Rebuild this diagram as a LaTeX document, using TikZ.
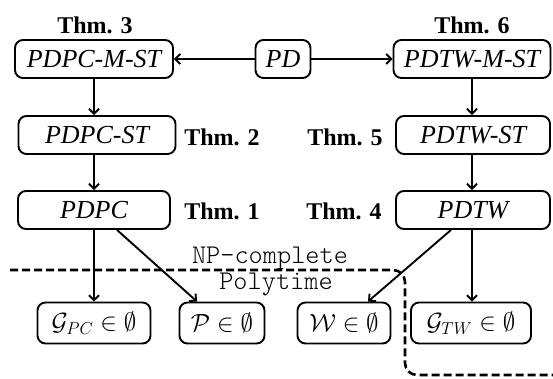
\documentclass[tikz,border=0pt]{standalone}
\usepackage{fontspec}
\setmainfont{Liberation Serif}
\setmonofont{lmmonolt10-regular.otf}
\usetikzlibrary{arrows.meta}
\begin{document}
\begin{tikzpicture}[x=1pt,y=-1pt,
  prob/.style={draw,rounded corners=8pt,line width=1.9pt,minimum height=38pt,
    inner sep=4pt,font=\fontsize{26}{30}\selectfont\itshape},
  leaf/.style={draw,rounded corners=8pt,line width=1.9pt,minimum height=41pt,
    inner sep=4pt,font=\fontsize{26}{30}\selectfont},
  thm/.style={font=\fontsize{24}{28}\selectfont\bfseries},
  region/.style={font=\fontsize{27}{30}\selectfont\ttfamily},
  arr/.style={line width=1.9pt,-{Straight Barb[length=5pt,width=10pt,line width=1.9pt]}},
  border/.style={line width=2.6pt,dash pattern=on 8pt off 4pt,rounded corners=12pt}]
\useasboundingbox (0,0) rectangle (553,379);

% reduction chain for the PC variant
\node[prob,minimum width=158pt] (pcm) at (94,59) {PDPC-M-ST};
\node[prob,minimum width=157pt] (pcs) at (97,135) {PDPC-ST};
\node[prob,minimum width=152pt] (pc)  at (94,210) {PDPC};

% common source
\node[prob,minimum width=55pt] (pd) at (283,59) {PD};

% reduction chain for the TW variant
\node[prob,minimum width=157pt] (twm) at (472,59) {PDTW-M-ST};
\node[prob,minimum width=154pt] (tws) at (473,135) {PDTW-ST};
\node[prob,minimum width=154pt] (tw)  at (473,210) {PDTW};

% theorem labels
\node[thm] (t3) at (95,25) {Thm. 3};
\node[thm] (t6) at (472,25) {Thm. 6};
\node[thm] (t2) at (222,137) {Thm. 2};
\node[thm] (t5) at (345,137) {Thm. 5};
\node[thm] (t1) at (222,211) {Thm. 1};
\node[thm] (t4) at (344,211) {Thm. 4};

% polynomial special cases
\node[leaf,minimum width=113pt] (gpc) at (94,323) {$\mathcal{G}_{PC}\in\emptyset$};
\node[leaf,minimum width=85pt]  (pp)  at (222,323) {$\mathcal{P}\in\emptyset$};
\node[leaf,minimum width=93pt]  (ww)  at (344,323) {$\mathcal{W}\in\emptyset$};
\node[leaf,minimum width=120pt] (gtw) at (471,323) {$\mathcal{G}_{TW}\in\emptyset$};

% complexity boundary
\coordinate (b0) at (10,270);
\coordinate (b1) at (405,270);
\coordinate (b2) at (405,375);
\coordinate (b3) at (553,375);
\draw[border] (b0) -- (b1) -- (b2) -- (b3);
\node[region] (np) at (270,258) {NP-complete};
\node[region] (pt) at (276,284) {Polytime};

% reductions
\draw[arr] (pd) -- (pcm);
\draw[arr] (pd) -- (twm);
\draw[arr] (pcm.south) -- (pcm.south |- pcs.north);
\draw[arr] (pcm.south |- pcs.south) -- (pcm.south |- pc.north);
\draw[arr] (pc.south) -- (gpc.north);
\draw[arr] ([xshift=23pt]pc.south) -- ([xshift=-25pt]pp.north);
\draw[arr] (twm.south) -- (twm.south |- tws.north);
\draw[arr] (twm.south |- tws.south) -- (twm.south |- tw.north);
\draw[arr] ([xshift=-22pt]tw.south) -- ([xshift=24pt]ww.north);
\draw[arr] (twm.south |- tw.south) -- (twm.south |- gtw.north);
\end{tikzpicture}
\end{document}
